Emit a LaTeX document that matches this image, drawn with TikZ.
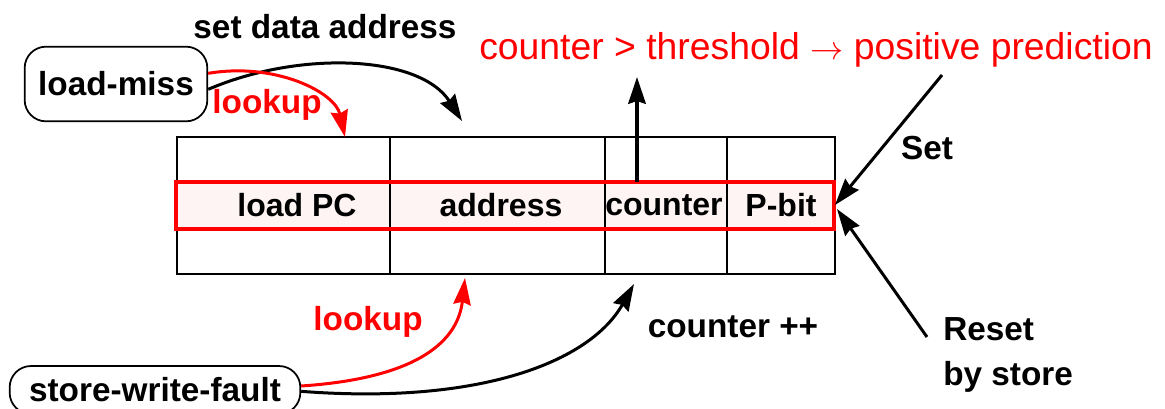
\documentclass[tikz,border=0pt]{standalone}
\usepackage{fontspec}
\setmainfont{Liberation Sans}
\usepackage{xcolor}
\usetikzlibrary{arrows.meta}
\definecolor{rosso}{HTML}{FF0000}
\definecolor{rosa}{HTML}{FFF4F4}
\tikzset{
  evento/.style={draw, line width=1.3pt, rounded corners=16pt, inner sep=0pt,
    font=\fontsize{25}{30}\selectfont\bfseries},
  etichetta/.style={inner sep=0pt, font=\fontsize{25}{34}\selectfont\bfseries},
  cella/.style={inner sep=0pt, font=\fontsize{24}{28}\selectfont\bfseries},
  griglia/.style={line width=1.5pt},
  freccia/.style={line width=2.25pt, -{Stealth[length=20pt,width=13pt,inset=2pt]}},
}
\begin{document}
\begin{tikzpicture}[x=0.75pt, y=-0.75pt]
        \useasboundingbox (0,0) rectangle (1165,408);
        % Eventi
        \node[evento, minimum width=137pt, minimum height=56pt] (loadmiss) at (116,84) {load-miss};
        \node[evento, minimum width=218pt, minimum height=36pt] (storefault) at (155,390) {store-write-fault};
        % Tabella
        \fill[rosa] (176,182) rectangle (834,229);
        \draw[griglia] (177,137) rectangle (835,274);
        \foreach \x in {390,605,727} \draw[griglia] (\x,137) -- (\x,274);
        \draw[rosso, line width=3pt] (176,182) rectangle (834,229);
        \node[cella] (loadpc) at (297,205) {load PC};
        \node[cella] (address) at (501,205) {address};
        \node[cella] (counter) at (664,205) {counter};
        \node[cella] (pbit) at (781,205) {P-bit};
        % Testi
        \node[inner sep=0pt, rosso, font=\fontsize{28}{32}\selectfont] (soglia) at (816,50) {counter > threshold $\rightarrow$ positive prediction};
        \node[etichetta] (setaddr) at (325,27) {set data address};
        \node[etichetta, rosso] (lookupA) at (267,105) {lookup};
        \node[etichetta, rosso] (lookupB) at (368,322) {lookup};
        \node[etichetta] (incr) at (733,327) {counter ++};
        \node[etichetta] (set) at (927,148) {Set};
        \node[etichetta, anchor=west, align=left] (reset) at (943,355) {Reset\\by store};
        % Punti di arrivo
        \coordinate (tipA) at (462,121);
        \coordinate (tipB) at (345,137);
        \coordinate (cnt) at (637,182);
        \coordinate (cntup) at (637,77);
        \coordinate (setfrom) at (942,75);
        \coordinate (resetfrom) at (927,337);
        \coordinate (tipF) at (465,278);
        \coordinate (tipG) at (634,284);
        % Frecce
        \draw[freccia] ([yshift=-4pt]loadmiss.east) .. controls (300,50) and (420,55) .. (tipA);
        \draw[freccia, rosso] ([yshift=8pt]loadmiss.east) .. controls (275,62) and (335,92) .. (tipB);
        \draw[freccia, line width=3pt] (cnt) -- (cntup);
        \draw[freccia] (setfrom) -- (pbit.east -| 835,0);
        \draw[freccia] (resetfrom) -- ([yshift=-3pt]pbit.east -| 837,0);
        \draw[freccia, rosso] ([yshift=3pt]storefault.east) .. controls (420,378) and (458,340) .. (tipF);
        \draw[freccia] ([yshift=-1pt]storefault.east) .. controls (480,405) and (590,362) .. (tipG);
    \end{tikzpicture}
\end{document}
